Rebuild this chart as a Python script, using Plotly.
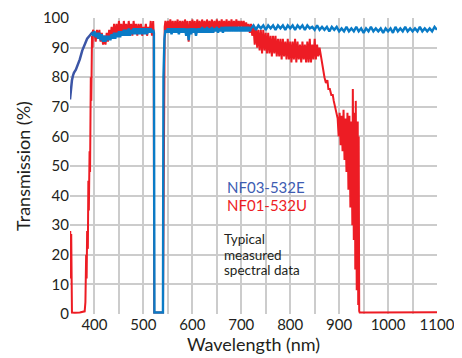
import plotly.graph_objects as go

# ---------------- data ----------------
red_wl = [350, 350.5, 351.5, 352.5, 353.5, 354, 360, 370, 380, 381.5, 383, 384, 385, 386.5, 387.5, 388.5, 390, 391, 392.5, 393.5, 395, 396, 397,
          400, 402.5, 405, 407.5, 410, 412.5, 415, 417.5, 420, 422.5, 425, 427.5, 430, 432.5, 435, 437.5, 440, 442.5, 445, 447.5,
          450, 452.5, 455, 457.5, 460, 462.5, 465, 467.5, 470, 472.5, 475, 477.5, 480, 482.5, 485, 487.5, 490, 492.5, 495, 497.5,
          500, 502.5, 505, 507.5, 510, 512.5, 515, 517.5, 520, 521, 522, 540, 542, 543.5,
          545, 547.5, 550, 552.5, 555, 557.5, 560, 562.5, 565, 567.5, 570, 572.5, 575, 577.5, 580, 582.5, 585, 587.5, 590, 592.5,
          595, 597.5, 600, 602.5, 605, 607.5, 610, 612.5, 615, 617.5, 620, 622.5, 625, 627.5, 630, 632.5, 635, 637.5, 640, 642.5,
          645, 647.5, 650, 652.5, 655, 657.5, 660, 662.5, 665, 667.5, 670, 672.5, 675, 677.5, 680, 682.5, 685, 687.5, 690, 692.5,
          695, 697.5, 700, 702.5, 705, 707.5, 710, 712.5, 715, 717.5,
          720, 722.5, 725, 727.5, 730, 732.5, 735, 737.5, 740, 742.5, 745, 747.5, 750, 752.5, 755, 757.5, 760, 762.5, 765, 767.5,
          770, 772.5, 775, 777.5, 780, 782.5, 785, 787.5, 790, 792.5, 795, 797.5, 800, 802.5, 805, 807.5, 810, 812.5, 815, 817.5,
          820, 822.5, 825, 827.5, 830, 832.5, 835, 837.5, 840, 842.5, 845, 847.5, 850, 852.5, 855, 857.5, 860, 862,
          865, 868, 870, 873, 876, 878, 881, 884, 887, 889, 892, 895,
          897, 899, 901, 903, 905, 907, 909, 911, 913, 915, 917, 919, 921, 923, 925, 927, 928, 930, 932, 933, 934, 936, 938, 939,
          940, 941, 942, 960, 1000, 1050, 1100]
red_t = [12, 28, 13, 27, 18, 0.5, 0.4, 0.5, 0.9, 4, 20, 12, 28, 22, 45, 35, 55, 48, 80, 72, 94, 90, 96,
         95, 92, 96, 93, 96, 92, 95, 91, 94, 91, 95, 92, 96, 93, 97, 93, 98, 94, 98, 94,
         99, 95, 98, 94, 99, 95, 98, 94, 99, 95, 98, 94, 99, 95, 98, 94, 98, 95, 98, 94,
         97, 95, 98, 94, 97, 95, 99, 94, 99, 95, 0.5, 0.5, 90, 97,
         99, 96, 99, 96, 99.5, 96, 99, 95, 99, 96, 99.5, 95, 99, 96, 99, 95, 99.5, 96, 99, 92,
         99, 95, 99.5, 96, 99, 94, 99.5, 96, 99, 95, 99.5, 96, 99, 95, 99.5, 96, 99, 96, 99.5, 95,
         99, 96, 99.5, 96, 99, 96, 99.5, 96, 99, 96, 99.5, 96, 99, 96, 99.5, 96, 99, 96, 99.5, 97,
         99, 97, 99, 97, 99, 96, 98.5, 96, 98, 95,
         98, 94, 97, 91, 97, 90, 96, 89, 96, 88, 96, 89, 95, 88, 95, 88, 94, 87, 94, 88,
         94, 87, 93, 87, 93, 86, 93, 87, 92, 86, 93, 86, 92, 85, 92, 86, 93, 85, 92, 86,
         91, 85, 92, 86, 91, 85, 92, 85, 93, 85, 91, 86, 93, 86, 91, 87, 90, 88,
         84, 81, 80, 78, 79, 76, 76, 74, 74, 72, 70, 68,
         66, 60, 68, 57, 67, 55, 69, 52, 66, 48, 68, 42, 67, 36, 65, 30, 76, 25, 68, 15, 72, 8, 65, 3,
         60, 1, 0.5, 0.5, 0.6, 0.5, 0.6]

darkblue_wl = [350, 352, 354, 356, 358, 362, 366, 370, 375, 380, 385, 390, 395, 398]
darkblue_t = [72.5, 77, 79, 80.5, 81.5, 82.5, 84, 86, 89, 91, 93, 94, 95, 95]

blue_wl = [395, 397.5, 400, 402.5, 405, 407.5, 410, 412.5, 415, 417.5, 420, 422.5, 425, 427.5, 430, 432.5, 435, 437.5,
           440, 442.5, 445, 447.5, 450, 452.5, 455, 457.5, 460, 462.5, 465, 467.5, 470, 472.5, 475, 477.5, 480, 482.5,
           485, 487.5, 490, 492.5, 495, 497.5, 500, 502.5, 505, 507.5, 510, 512.5, 515, 517.5, 520, 521.5, 522.5,
           540, 541, 542, 543,
           545, 547.5, 550, 552.5, 555, 557.5, 560, 562.5, 565, 567.5, 570, 572.5, 575, 577.5, 580, 582.5, 585, 587.5,
           590, 592.5, 595, 597.5, 600, 602.5, 605, 607.5, 610, 612.5, 615, 617.5, 620, 622.5, 625, 627.5, 630, 632.5,
           635, 637.5, 640, 642.5, 645, 647.5, 650, 652.5, 655, 657.5, 660, 662.5, 665, 667.5, 670, 672.5, 675, 677.5,
           680, 682.5, 685, 687.5, 690, 692.5, 695, 697.5, 700, 702.5, 705, 707.5, 710, 712.5, 715, 717.5,
           720, 725, 730, 735, 740, 745, 750, 755, 760, 765, 770, 775, 780, 785, 790, 795, 800, 805, 810, 815,
           820, 825, 830, 835, 840, 845, 850, 855, 860, 865, 870, 875, 880, 885, 890, 895, 900, 905, 910, 915,
           920, 925, 930, 935, 940, 945, 950, 955, 960, 965, 970, 975, 980, 985, 990, 995, 1000, 1005, 1010, 1015,
           1020, 1025, 1030, 1035, 1040, 1045, 1050, 1055, 1060, 1065, 1070, 1075, 1080, 1085, 1090, 1095, 1100]
blue_t = [95, 94, 95.5, 93.5, 95, 93, 95, 92.5, 94.5, 92, 94, 92, 94, 92.5, 94, 92.5, 94.5, 93,
          95, 93, 95, 93.5, 95.5, 93.5, 95.5, 94, 96, 94, 96, 94, 96.5, 94, 96, 94.5, 96.5, 94.5,
          96.5, 94.5, 96.5, 94.5, 96.5, 94.5, 96.5, 94.5, 96.5, 94.5, 96.5, 95, 96.5, 95, 96, 95, 0.5,
          0.5, 80, 88, 93,
          96, 95, 96.5, 95, 96.5, 94.5, 96.5, 95, 96.5, 95, 96.5, 94.5, 96.5, 95, 96.5, 95, 96.5, 94,
          96.5, 92.5, 96.5, 94.5, 96.5, 95, 96.5, 94, 96.5, 95, 96.5, 95, 97, 95, 96.5, 95, 97, 95,
          96.5, 95, 97, 95, 96.5, 95.5, 97, 95, 96.5, 95.5, 97, 95, 97, 95.5, 97, 95.5, 97, 95.5,
          97, 95.5, 97, 95.5, 97, 95.5, 97, 95.5, 97, 95.5, 97, 95.5, 97, 95.5, 97, 95.5,
          96.5, 97.5, 96, 97.5, 96.5, 97.5, 96, 97.5, 96.5, 97.5, 96, 97.5, 96.5, 97.5, 96, 97.5, 96.5, 97.5, 96, 97.5,
          96.5, 97.5, 96, 97.5, 96.5, 97, 96, 97.5, 96, 97, 96, 97, 95.5, 97, 96, 97, 95.5, 96.5, 95.5, 97,
          95.5, 96.5, 95.5, 97, 95.5, 96.5, 95, 96.5, 95.5, 97, 95.5, 96.5, 95.5, 96.5, 95, 96.5, 95.5, 96.5, 95, 97,
          95.5, 96.5, 95.5, 97, 95.5, 96.5, 95.5, 96.5, 95.5, 97, 95.5, 96.5, 95.5, 96.5, 95.5, 97, 96]

x_tickvals = [350, 400, 450, 500, 550, 600, 650, 700, 750, 800, 850, 900, 950, 1000, 1050, 1100]
x_ticktext = ["", "400", "", "500", "", "600", "", "700", "", "800", "", "900", "", "1000", "", "1100"]
y_tickvals = [0, 10, 20, 30, 40, 50, 60, 70, 80, 90, 100]

RED = "#ed1c24"
BLUE = "#0a7bc6"
DARKBLUE = "#3b55a6"
FONT = "Lato"

fig = go.Figure()
fig.add_trace(go.Scatter(x=red_wl, y=red_t, mode="lines", line=dict(color=RED, width=2), showlegend=False))
fig.add_trace(go.Scatter(x=darkblue_wl, y=darkblue_t, mode="lines", line=dict(color=DARKBLUE, width=2.5), showlegend=False))
fig.add_trace(go.Scatter(x=blue_wl, y=blue_t, mode="lines", line=dict(color=BLUE, width=2.4), showlegend=False))

# the page adds an 8px body margin, so the figure is sized to fit the 462x358 window
fig.update_layout(
    width=454, height=350,
    margin=dict(l=62, r=25, t=10, b=44),
    paper_bgcolor="white", plot_bgcolor="white",
    font=dict(family=FONT, size=14, color="#231f20"),
    xaxis=dict(range=[350, 1100], tickvals=x_tickvals, ticktext=x_ticktext, automargin=False,
               ticklabeloverflow="allow",
               showgrid=True, gridcolor="#cccccc", gridwidth=2, zeroline=False, showline=False,
               ticks="", tickfont=dict(size=15),
               title=dict(text="Wavelength (nm)", font=dict(size=18), standoff=5)),
    yaxis=dict(range=[0, 100], tickvals=y_tickvals, automargin=False,
               showgrid=True, gridcolor="#cccccc", gridwidth=2, zeroline=False, showline=False,
               ticks="", tickfont=dict(size=15),
               title=dict(text="Transmission (%)", font=dict(size=18), standoff=7)),
)

fig.add_annotation(x=0.422, y=0.429, xref="paper", yref="paper", xanchor="left", yanchor="middle",
                   text="NF03-532E", showarrow=False, font=dict(size=15, color="#3d5cb2", family=FONT))
fig.add_annotation(x=0.422, y=0.368, xref="paper", yref="paper", xanchor="left", yanchor="middle",
                   text="NF01-532U", showarrow=False, font=dict(size=15, color=RED, family=FONT))
for i, line in enumerate(["Typical", "measured", "spectral data"]):
    fig.add_annotation(x=0.413, y=0.252 - i * 0.052, xref="paper", yref="paper", xanchor="left", yanchor="middle",
                       text=line, showarrow=False, font=dict(size=13.5, color="#231f20", family=FONT))

fig.write_html("out.html")
